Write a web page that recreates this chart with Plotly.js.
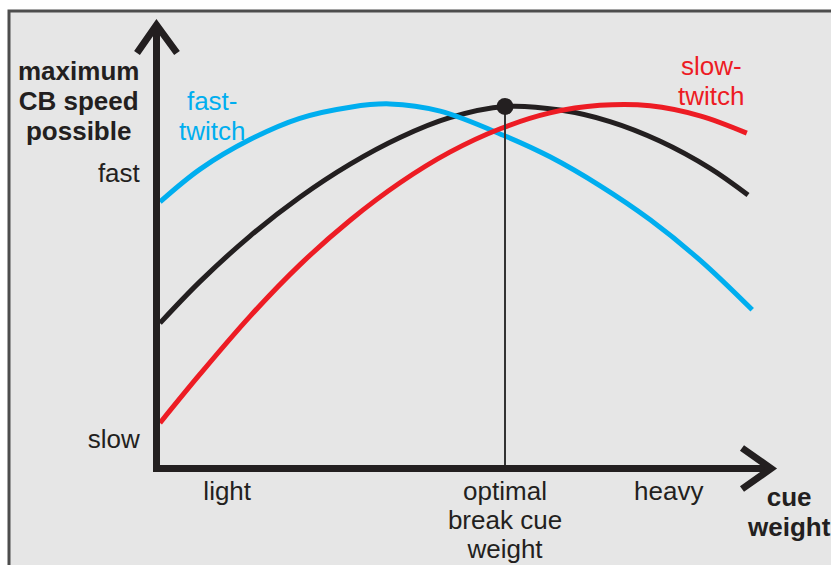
<!DOCTYPE html>
<html><head><meta charset="utf-8">
<script src="https://cdn.plot.ly/plotly-3.0.1.min.js"></script>
<style>html,body{margin:0;padding:0;background:#fff;}#chart{width:831px;height:565px;}</style>
</head><body><div id="chart"></div>
<script>
// ---- data (x: cue weight, 0..~100; y: maximum CB speed, 0..~100) ----
const fastTwitchX = [0, 6.7, 15, 23.3, 31.7, 38.3, 46.7, 57.5, 65, 73.3, 81.7, 90, 98.7];
const fastTwitchY = [73.1, 82.2, 90.4, 96.3, 99.4, 100.3, 98.3, 91.4, 85.6, 77.6, 68.1, 56.9, 43.1];
const combinedX   = [0, 6.7, 15, 23.3, 31.7, 40, 48.3, 57.5, 66.7, 75, 83.3, 91.7, 98];
const combinedY   = [39.4, 51.0, 63.6, 74.4, 83.6, 91.0, 96.5, 99.6, 98.6, 95.4, 90.0, 82.4, 75.0];
const slowTwitchX = [0, 6.7, 15, 23.3, 31.7, 40, 48.3, 56.7, 65, 73.3, 81.7, 90, 97.8];
const slowTwitchY = [11.7, 25.3, 41.3, 55.6, 68.0, 78.4, 86.9, 93.4, 97.8, 99.9, 99.8, 97.0, 92.2];
const optimalX = 57.5;
const optimalY = 99.6;

const xTickVals = [11.2, optimalX, 84.8];
const xTickText = ['light', 'optimal<br>break cue<br>weight', 'heavy'];
const yTickVals = [7.2, 81.1];
const yTickText = ['slow', 'fast'];

const yTitle = 'maximum<br>CB speed<br>possible';
const xTitle = 'cue<br>weight';
const fastLabel = 'fast-<br>twitch';
const slowLabel = 'slow-<br>twitch';

// ---- styling / geometry ----
const FONT = 'Liberation Sans, Arial, Helvetica, sans-serif';
const INK = '#231f20';
const BLUE = '#00aeef';
const RED = '#ed1c24';
const W = 831, H = 565;
const L = 160, R = 772, T = 24, B = 465;
const XMAX = (R - L) / 6, YMAX = (B - T) / 3.6;

const px = v => (v - L) / (R - L);          // pixel -> paper x
const py = v => (B - v) / (B - T);          // pixel -> paper y
const pt = (x, y) => px(x) + ',' + py(y);
const big = (txt, size, bold) => txt.split('<br>').map(s =>
  (bold ? '<b>' : '') + '<span style="font-size:' + size + 'px">' + s + '</span>' + (bold ? '</b>' : '')).join('<br>');

const traces = [
  {x: combinedX, y: combinedY, mode: 'lines', line: {color: INK, width: 5, shape: 'spline', smoothing: 1}, hoverinfo: 'skip'},
  {x: fastTwitchX, y: fastTwitchY, mode: 'lines', line: {color: BLUE, width: 5, shape: 'spline', smoothing: 1}, hoverinfo: 'skip'},
  {x: slowTwitchX, y: slowTwitchY, mode: 'lines', line: {color: RED, width: 5, shape: 'spline', smoothing: 1}, hoverinfo: 'skip'},
  {x: [optimalX, optimalX], y: [0, optimalY], mode: 'lines', line: {color: '#333', width: 2}, hoverinfo: 'skip'},
  {x: [optimalX], y: [optimalY], mode: 'markers', marker: {color: INK, size: 17}, hoverinfo: 'skip', cliponaxis: false}
];

const layout = {
  width: W, height: H,
  margin: {l: L, r: W - R, t: T, b: H - B, pad: 0},
  paper_bgcolor: '#ffffff',
  plot_bgcolor: 'rgba(0,0,0,0)',
  showlegend: false,
  font: {family: FONT, color: INK},
  xaxis: {
    range: [0, XMAX], showgrid: false, zeroline: false,
    showline: true, linewidth: 7, linecolor: INK,
    ticks: '', tickvals: xTickVals, ticktext: xTickText.map(t => big(t, 26)),
    tickfont: {family: FONT, size: 22, color: INK}, ticklabelstandoff: 2, fixedrange: true
  },
  yaxis: {
    range: [0, YMAX], showgrid: false, zeroline: false,
    showline: true, linewidth: 7, linecolor: INK,
    ticks: '', tickvals: yTickVals, ticktext: yTickText,
    tickfont: {family: FONT, size: 26, color: INK}, ticklabelstandoff: 8, fixedrange: true
  },
  shapes: [
    {type: 'rect', xref: 'paper', yref: 'paper', layer: 'below',
     x0: px(9), x1: px(840), y0: py(580), y1: py(11),
     fillcolor: '#e6e6e6', line: {color: '#4d4d4d', width: 3}},
    {type: 'path', xref: 'paper', yref: 'paper',
     path: 'M' + pt(137, 53) + 'L' + pt(156.5, 25) + 'L' + pt(177, 53),
     line: {color: INK, width: 7}},
    {type: 'path', xref: 'paper', yref: 'paper',
     path: 'M' + pt(742, 448) + 'L' + pt(771, 468.5) + 'L' + pt(742, 489),
     line: {color: INK, width: 7}}
  ],
  annotations: [
    {xref: 'paper', yref: 'paper', x: px(78), y: py(101), xanchor: 'center', yanchor: 'middle',
     text: big(yTitle, 26, true), font: {family: FONT, size: 23, color: INK}, showarrow: false, align: 'center'},
    {xref: 'paper', yref: 'paper', x: px(789), y: py(512), xanchor: 'center', yanchor: 'middle',
     text: big(xTitle, 26, true), font: {family: FONT, size: 23, color: INK}, showarrow: false, align: 'center'},
    {xref: 'paper', yref: 'paper', x: px(212), y: py(116), xanchor: 'center', yanchor: 'middle',
     text: big(fastLabel, 26), font: {family: FONT, size: 23, color: BLUE}, showarrow: false, align: 'center'},
    {xref: 'paper', yref: 'paper', x: px(711), y: py(81), xanchor: 'center', yanchor: 'middle',
     text: big(slowLabel, 26), font: {family: FONT, size: 23, color: RED}, showarrow: false, align: 'center'}
  ]
};

Plotly.newPlot('chart', traces, layout, {staticPlot: true, displayModeBar: false});
</script>
</body></html>
